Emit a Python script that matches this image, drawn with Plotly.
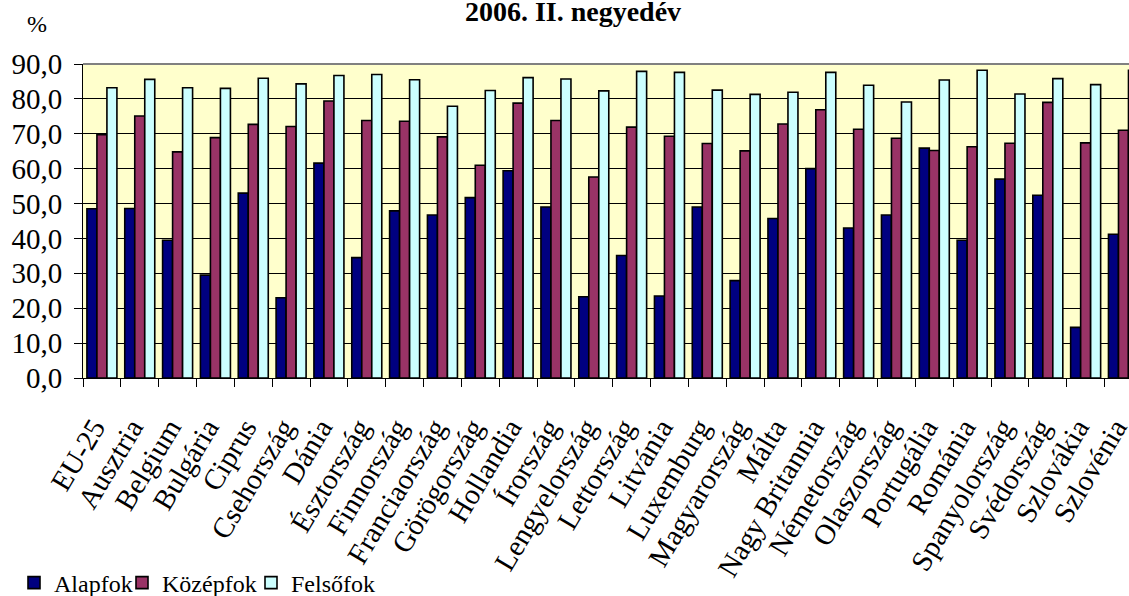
import plotly.graph_objects as go

categories = ["EU-25", "Ausztria", "Belgium", "Bulgária", "Ciprus", "Csehország", "Dánia",
              "Észtország", "Finnország", "Franciaország", "Görögország", "Hollandia",
              "Írország", "Lengyelország", "Lettország", "Litvánia", "Luxemburg",
              "Magyarország", "Málta", "Nagy Britannia", "Németország", "Olaszország",
              "Portugália", "Románia", "Spanyolország", "Svédország", "Szlovákia", "Szlovénia"]

alapfok = [48.5, 48.6, 39.5, 29.5, 53.0, 23.0, 61.6, 34.5, 47.9, 46.7, 51.7, 59.4, 49.0, 23.3,
           35.1, 23.5, 49.0, 27.9, 45.7, 60.0, 43.0, 46.7, 65.9, 39.5, 57.0, 52.4, 14.5, 41.2]
kozepfok = [69.7, 75.1, 64.8, 68.9, 72.7, 72.1, 79.4, 73.8, 73.6, 69.1, 61.0, 78.8, 73.8, 57.6,
            71.9, 69.3, 67.2, 65.1, 72.8, 76.9, 71.3, 68.7, 65.2, 66.3, 67.3, 79.0, 67.4, 71.0]
felsofok = [83.2, 85.6, 83.2, 83.0, 85.9, 84.3, 86.7, 87.0, 85.5, 77.9, 82.4, 86.1, 85.7, 82.3,
            87.9, 87.6, 82.5, 81.3, 81.9, 87.6, 83.9, 79.1, 85.4, 88.2, 81.4, 85.8, 84.1, 88.2]

series_names = ["Alapfok", "Középfok", "Felsőfok"]
colors = ["#000080", "#993366", "#CCFFFF"]
legend_ids = ["legend", "legend2", "legend3"]
legend_left_px = [14, 122, 251]

FONT = "Liberation Serif"
W, H = 1129, 596

fig = go.Figure()
for name, vals, col, lg in zip(series_names, [alapfok, kozepfok, felsofok], colors, legend_ids):
    fig.add_trace(go.Bar(
        x=categories, y=vals, name=name, legend=lg,
        marker=dict(color=col, line=dict(color="black", width=1.6)),
    ))

legend_common = dict(orientation="h", xref="container", yref="container",
                     xanchor="left", y=1 - 583 / H, yanchor="middle",
                     font=dict(family=FONT, size=24, color="black"),
                     bgcolor="rgba(0,0,0,0)", itemwidth=30)

n = len(categories)
fig.update_layout(
    width=W, height=H,
    margin=dict(l=83, r=0, t=64, b=218, autoexpand=False),
    paper_bgcolor="white",
    plot_bgcolor="#FFFFCC",
    barmode="group", bargap=0.207, bargroupgap=0,
    separators=",.",
    font=dict(family=FONT, color="black"),
    title=dict(text="<b>2006. II. negyedév</b>", x=573 / W, xref="container", xanchor="center",
               y=1 - 11 / H, yref="container", yanchor="middle",
               font=dict(family=FONT, size=28, color="black")),
    showlegend=True,
    legend=dict(x=legend_left_px[0] / W, **legend_common),
    legend2=dict(x=legend_left_px[1] / W, **legend_common),
    legend3=dict(x=legend_left_px[2] / W, **legend_common),
    annotations=[dict(text="%", xref="x domain", yref="y domain",
                      x=(37 - 83) / 1046, y=1 + (64 - 24) / 314,
                      xanchor="center", yanchor="middle", showarrow=False,
                      font=dict(family=FONT, size=24, color="black"))],
    shapes=[dict(type="line", xref="paper", yref="paper", x0=0, x1=1, y0=1, y1=1,
                 line=dict(color="#808080", width=2))],
)

fig.update_xaxes(
    range=[-0.5, n - 0.5 - 0.354],
    showline=True, linecolor="black", linewidth=1,
    ticks="outside", tickson="boundaries", ticklen=8, tickcolor="black",
    tickangle=-59, tickfont=dict(family=FONT, size=29, color="black"),
    ticklabelstandoff=20, ticklabelshift=-8,
    showgrid=False, zeroline=False,
)
fig.update_yaxes(
    range=[0, 90], dtick=10, tickformat=".1f",
    showline=True, linecolor="black", linewidth=1,
    ticks="outside", ticklen=8, tickcolor="black",
    tickfont=dict(family=FONT, size=29, color="black"),
    ticklabelstandoff=6,
    showgrid=True, gridcolor="black", gridwidth=1,
    zeroline=False,
)

fig.write_html("out.html", config={"displayModeBar": False},
               post_script="document.body.style.margin='0';document.body.style.padding='0';")
